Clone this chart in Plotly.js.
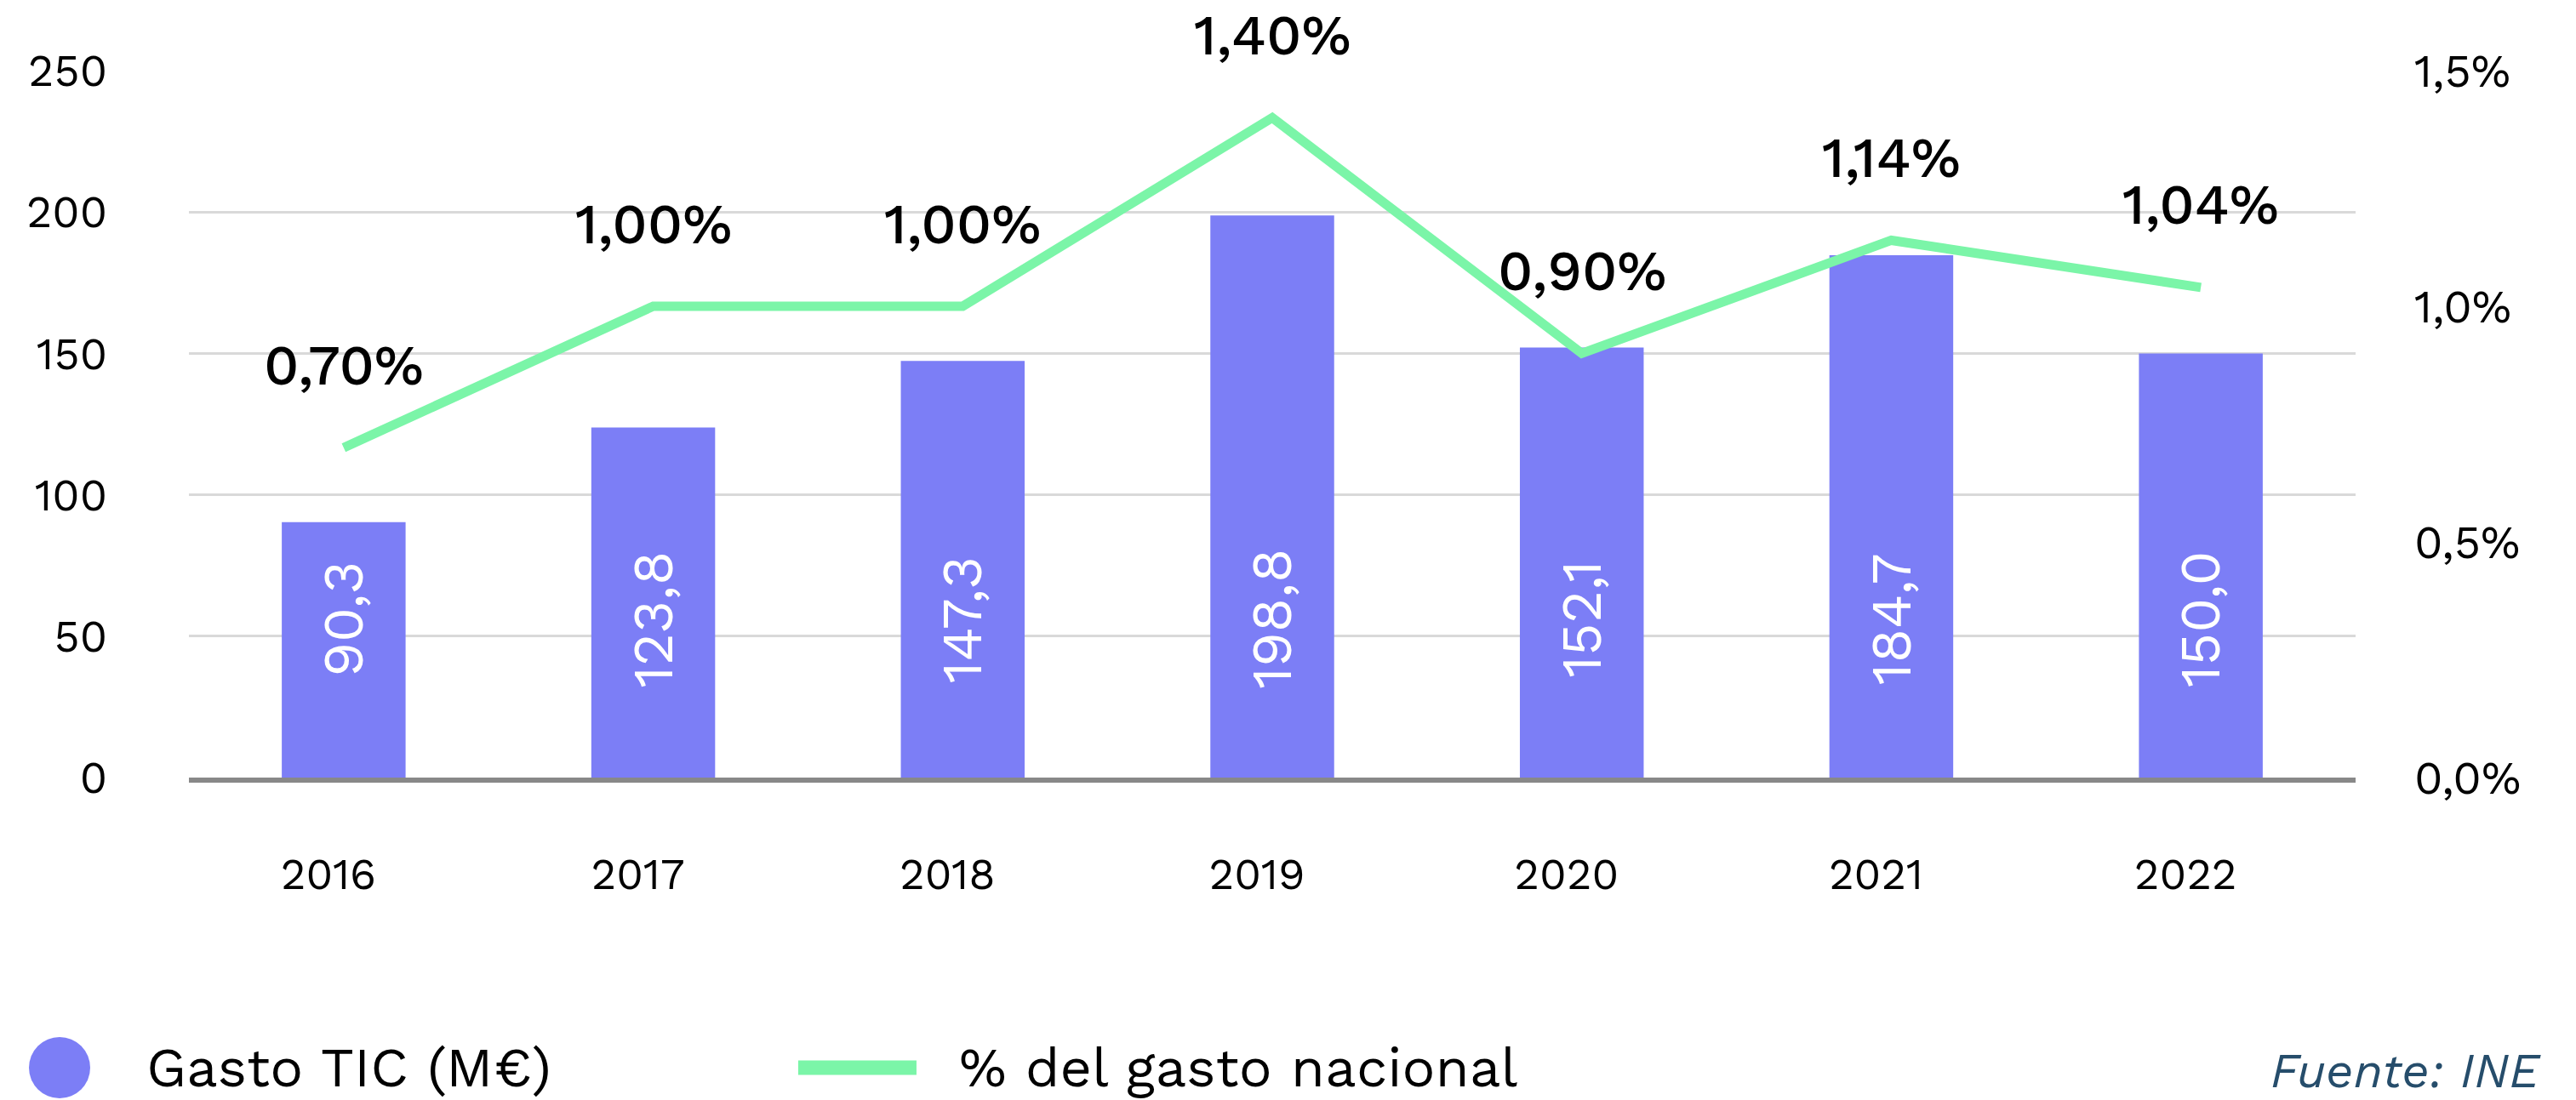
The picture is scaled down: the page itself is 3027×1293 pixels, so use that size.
<!DOCTYPE html>
<html>
<head>
<meta charset="utf-8">
<script src="https://cdn.plot.ly/plotly-3.0.1.min.js"></script>
<style>
  html, body { margin: 0; padding: 0; background: #ffffff; }
  #chart { width: 3027px; height: 1293px; }
</style>
</head>
<body>
<div id="chart"></div>
<script>
// ---- Data ----
const years = ['2016', '2017', '2018', '2019', '2020', '2021', '2022'];
const gastoTIC = [90.3, 123.8, 147.3, 198.8, 152.1, 184.7, 150.0];
const pctGastoNacional = [0.70, 1.00, 1.00, 1.40, 0.90, 1.14, 1.04];
const leftTickVals = [0, 50, 100, 150, 200, 250];
const rightTickVals = [0, 0.5, 1.0, 1.5];
const seriesNames = ['Gasto TIC (M€)', '% del gasto nacional'];
const sourceText = 'Fuente: INE';

// ---- Style ----
const FONT = 'Work Sans, Inter, sans-serif';
const BAR_COLOR = '#7C7EF6';
const LINE_COLOR = '#7BF5A8';
const fmt = (v, d) => v.toFixed(d).replace('.', ',');

const traces = [
  {
    type: 'bar',
    x: years,
    y: gastoTIC,
    name: seriesNames[0],
    marker: { color: BAR_COLOR },
    width: 0.4,
    showlegend: false,
    hoverinfo: 'skip'
  },
  {
    type: 'scatter',
    mode: 'lines',
    x: years,
    y: pctGastoNacional,
    yaxis: 'y2',
    name: seriesNames[1],
    line: { color: LINE_COLOR, width: 11 },
    showlegend: false,
    hoverinfo: 'skip'
  }
];

const annotations = [];
// bar value labels (rotated, white) — category axis uses category index
years.forEach((yr, i) => {
  annotations.push({
    x: i, y: 56, xref: 'x', yref: 'y',
    text: fmt(gastoTIC[i], 1),
    textangle: -90, showarrow: false,
    font: { family: FONT, size: 66, color: '#ffffff' }
  });
});
// line value labels
years.forEach((yr, i) => {
  annotations.push({
    x: i, y: pctGastoNacional[i], xref: 'x', yref: 'y2',
    text: fmt(pctGastoNacional[i], 2) + '%',
    showarrow: false, yshift: 97, yanchor: 'middle',
    font: { family: FONT, size: 66, color: '#000000', weight: 500 }
  });
});
// legend texts
annotations.push({
  xref: 'paper', yref: 'paper', x: -0.0204, y: -0.4103,
  xanchor: 'left', yanchor: 'middle', showarrow: false,
  text: seriesNames[0],
  font: { family: FONT, size: 65, color: '#000000' }
});
annotations.push({
  xref: 'paper', yref: 'paper', x: 0.3547, y: -0.4103,
  xanchor: 'left', yanchor: 'middle', showarrow: false,
  text: seriesNames[1],
  font: { family: FONT, size: 65, color: '#000000' }
});
// source
annotations.push({
  xref: 'paper', yref: 'paper', x: 1.0864, y: -0.414,
  xanchor: 'right', yanchor: 'middle', showarrow: false,
  text: sourceText,
  font: { family: FONT, size: 57, color: '#264D6B', style: 'italic' }
});

const shapes = [
  // legend circle
  {
    type: 'circle', xref: 'paper', yref: 'paper',
    xsizemode: 'pixel', ysizemode: 'pixel',
    xanchor: -0.0597, yanchor: -0.4103,
    x0: -36, x1: 36, y0: -36, y1: 36,
    fillcolor: BAR_COLOR, line: { width: 0 }
  },
  // legend line
  {
    type: 'line', xref: 'paper', yref: 'paper',
    xsizemode: 'pixel', xanchor: 0.2812,
    x0: 0, x1: 139, y0: -0.4103, y1: -0.4103,
    line: { color: LINE_COLOR, width: 17 }
  }
];

const layout = {
  width: 3027,
  height: 1293,
  margin: { l: 222, r: 259, t: 83, b: 379, pad: 0 },
  paper_bgcolor: '#ffffff',
  plot_bgcolor: '#ffffff',
  font: { family: FONT, color: '#000000' },
  separators: ',.',
  showlegend: false,
  xaxis: {
    type: 'category',
    range: [-0.5, years.length - 0.5],
    showgrid: false,
    zeroline: false,
    showline: true,
    linecolor: '#888888',
    linewidth: 6,
    ticks: '',
    ticklabelstandoff: 64,
    ticklabelshift: -18,
    tickfont: { family: FONT, size: 51, color: '#000000' }
  },
  yaxis: {
    range: [0, 250],
    tickmode: 'array',
    tickvals: leftTickVals,
    ticktext: leftTickVals.map(v => String(v)),
    showgrid: true,
    gridcolor: '#d9d9d9',
    gridwidth: 3,
    zeroline: false,
    showline: false,
    ticks: '',
    ticklabelstandoff: 95,
    tickfont: { family: FONT, size: 52, color: '#000000' }
  },
  yaxis2: {
    overlaying: 'y',
    side: 'right',
    range: [0, 1.5],
    tickmode: 'array',
    tickvals: rightTickVals,
    ticktext: rightTickVals.map(v => fmt(v, 1) + '%'),
    showgrid: false,
    zeroline: false,
    showline: false,
    ticks: '',
    ticklabelstandoff: 68,
    tickfont: { family: FONT, size: 54, color: '#000000' }
  },
  annotations: annotations,
  shapes: shapes
};

Plotly.newPlot('chart', traces, layout, { displayModeBar: false, staticPlot: true });
</script>
</body>
</html>
